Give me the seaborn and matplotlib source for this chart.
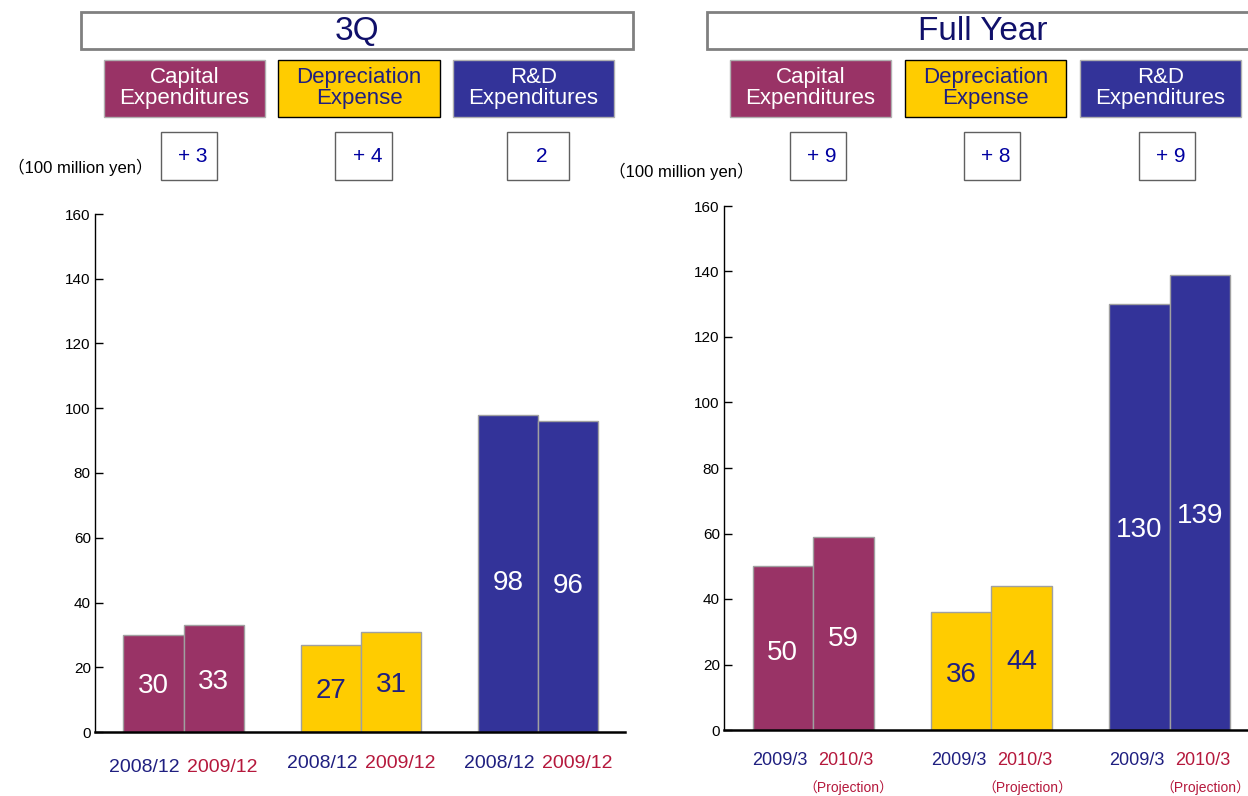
"""
3Q and full-year capex / depreciation / R&D comparison, redrawn with seaborn.
"""
import pandas as pd
import matplotlib.pyplot as plt
import matplotlib.transforms as mtransforms
from matplotlib.patches import Rectangle
import seaborn as sns

sns.set_theme(style="white")
plt.rcParams.update({'font.family': ['Liberation Sans', 'DejaVu Sans', 'Noto Sans CJK JP']})

PLUM   = "#993366"
GOLD   = "#FFCC00"
INDIGO = "#333399"
NAVY   = "#1F1F80"
CRIMSON = "#B5183C"
BLUE_TXT = "#0000A0"

# --- data ---
categories = ['Capital\nExpenditures', 'Depreciation\nExpense', 'R&D\nExpenditures']
cat_colors = [PLUM, GOLD, INDIGO]
text_colors = ['white', NAVY, 'white']

q3_periods = ['2008/12', '2009/12']
q3_prev = [30, 27, 98]
q3_curr = [33, 31, 96]
q3_diff = ['+ 3', '+ 4', '2']

fy_periods = ['2009/3', '2010/3']
fy_prev = [50, 36, 130]
fy_curr = [59, 44, 139]
fy_diff = ['+ 9', '+ 8', '+ 9']

W, H = 1248, 796
fig = plt.figure(figsize=(W / 100, H / 100), dpi=100)


def px_box(x0, y0, x1, y1, face, edge, lw=1.0):
    r = Rectangle((x0 / W, 1 - y1 / H), (x1 - x0) / W, (y1 - y0) / H,
                  transform=fig.transFigure, facecolor=face, edgecolor=edge,
                  linewidth=lw, zorder=1)
    fig.patches.append(r)


def px_text(x, y, s, **kw):
    fig.text(x / W, 1 - y / H, s, ha='center', va='center', **kw)


def panel(rect, xlim, periods, prev, curr, label_dy, proj=False, shift=0.0, lab_fs=14):
    ax = fig.add_axes(rect)
    df = pd.DataFrame({
        'cat': categories * 2,
        'period': [periods[0]] * 3 + [periods[1]] * 3,
        'value': prev + curr,
    })
    sns.barplot(data=df, x='cat', y='value', hue='period', hue_order=periods,
                order=categories, width=0.68, gap=0, errorbar=None, legend=False,
                edgecolor='#A0A0A0', linewidth=1.0, ax=ax)
    for cont in ax.containers:
        for i, bar in enumerate(cont):
            bar.set_facecolor(cat_colors[i])
            v = bar.get_height()
            ax.text(bar.get_x() + bar.get_width() / 2, v * 0.47, f"{v:.0f}",
                    ha='center', va='center', fontsize=20, color=text_colors[i])
    ax.set_xlim(*xlim)
    ax.set_ylim(0, 160)
    ax.set_yticks(range(0, 161, 20))
    ax.set_xticks([])
    ax.set_xlabel('')
    ax.set_ylabel('')
    ax.tick_params(axis='y', direction='in', length=6, width=1, labelsize=11,
                   pad=3, colors='black', left=True)
    for s in ['top', 'right']:
        ax.spines[s].set_visible(False)
    ax.spines['left'].set_color('black')
    ax.spines['left'].set_linewidth(1.0)
    ax.spines['bottom'].set_color('black')
    ax.spines['bottom'].set_linewidth(1.8)
    ax.spines['bottom'].set_zorder(5)

    trans = mtransforms.blended_transform_factory(ax.transData, ax.transAxes)
    for i in range(3):
        ax.text(i - 0.17 - shift, label_dy[i], periods[0], transform=trans,
                ha='center', va='center', fontsize=lab_fs, color=NAVY, clip_on=False)
        ax.text(i + 0.17 + shift, label_dy[i], periods[1], transform=trans,
                ha='center', va='center', fontsize=lab_fs, color=CRIMSON, clip_on=False)
        if proj:
            ax.text(i + 0.2, -0.109, '（Projection）', transform=trans,
                    ha='center', va='center', fontsize=10, color=CRIMSON, clip_on=False)
    return ax


panel([95 / W, 1 - 732 / H, 530 / W, 518 / H], (-0.5, 2.49),
      q3_periods, q3_prev, q3_curr, [-0.069, -0.061, -0.061], shift=0.05)
panel([724 / W, 1 - 730 / H, 524 / W, 524 / H], (-0.5, 2.44),
      fy_periods, fy_prev, fy_curr, [-0.059, -0.059, -0.059], proj=True,
      shift=0.015, lab_fs=13)

# --- headers ---
px_box(81, 12, 633, 49, 'white', '#808080', lw=2)
px_text(357, 32, '3Q', fontsize=24, color='#10106A')
px_box(707, 12, 1262, 49, 'white', '#808080', lw=2)
px_text(983, 32, 'Full Year', fontsize=24, color='#10106A')

cat_boxes = [[(104, 265), (278, 440), (453, 614)],
             [(730, 891), (905, 1066), (1080, 1241)]]
edges = ['#B0B0B0', 'black', '#B0B0B0']
for row in cat_boxes:
    for i, (x0, x1) in enumerate(row):
        px_box(x0, 60, x1, 117, cat_colors[i], edges[i], lw=1)
        px_text((x0 + x1) / 2, 88, categories[i], fontsize=16, color=text_colors[i],
                linespacing=1.05)

diff_boxes = [[(161, 217), (335, 392), (507, 569)],
              [(790, 846), (964, 1020), (1139, 1195)]]
for row, diffs in zip(diff_boxes, [q3_diff, fy_diff]):
    for (x0, x1), d in zip(row, diffs):
        px_box(x0, 132, x1, 180, 'white', '#606060', lw=1)
        px_text((x0 + x1) / 2 + 4, 157, d, fontsize=15, color=BLUE_TXT)

px_text(80, 167, '（100 million yen）', fontsize=12, color='black')
px_text(681, 171, '（100 million yen）', fontsize=12, color='black')

fig.savefig("out.png", dpi=100)
